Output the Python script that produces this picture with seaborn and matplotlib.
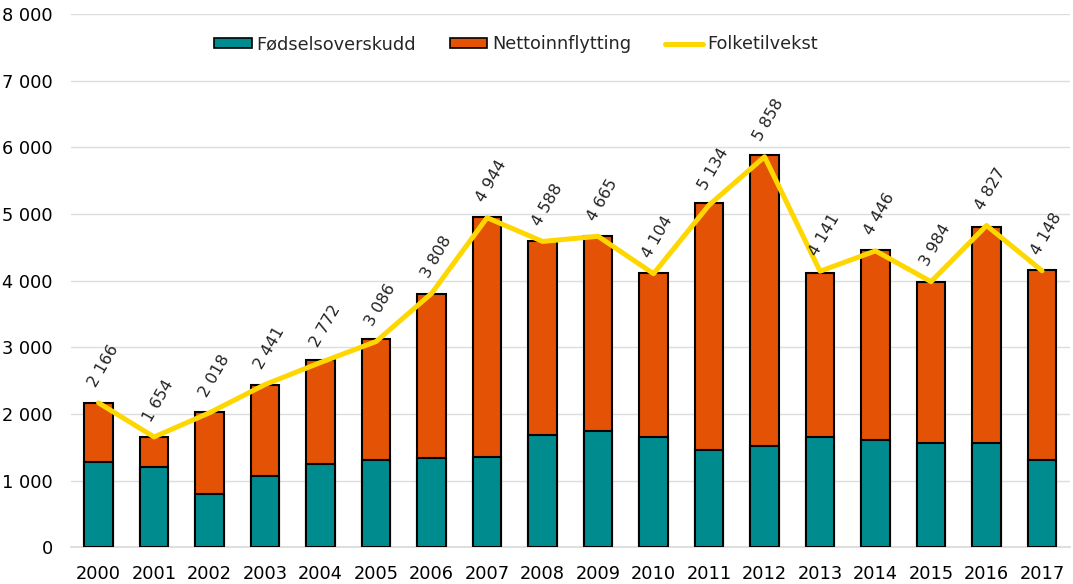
import pandas as pd
import matplotlib.pyplot as plt
import seaborn as sns
from matplotlib.patches import Patch
from matplotlib.lines import Line2D

# Data
years = [str(y) for y in range(2000, 2018)]
fodselsoverskudd = [1280, 1200, 800, 1070, 1250, 1310, 1345, 1360, 1690, 1750,
                    1655, 1465, 1515, 1655, 1610, 1570, 1570, 1305]
nettoinnflytting = [880, 460, 1225, 1360, 1560, 1820, 2455, 3590, 2900, 2915,
                    2455, 3700, 4365, 2455, 2850, 2410, 3230, 2860]
folketilvekst = [2166, 1654, 2018, 2441, 2772, 3086, 3808, 4944, 4588, 4665,
                 4104, 5134, 5858, 4141, 4446, 3984, 4827, 4148]

teal = "#008B8F"
orange = "#E35205"
yellow = "#FFD700"

df = pd.DataFrame({
    "year": years,
    "fodsel": fodselsoverskudd,
    "netto": nettoinnflytting,
    "vekst": folketilvekst,
})
df["total"] = df["fodsel"] + df["netto"]

sns.set_style("white")
plt.rcParams["font.family"] = ["DejaVu Sans"]

fig, ax = plt.subplots(figsize=(10.73, 5.84), dpi=100)
fig.subplots_adjust(left=0.066, right=0.997, top=0.976, bottom=0.063)

# stacked bars: total (orange) first, then the lower part (teal) over it
sns.barplot(data=df, x="year", y="total", color=orange, width=0.52,
            edgecolor="black", linewidth=1.5, saturation=1, ax=ax, zorder=2)
sns.barplot(data=df, x="year", y="fodsel", color=teal, width=0.52,
            edgecolor="black", linewidth=1.5, saturation=1, ax=ax, zorder=3)
sns.lineplot(data=df, x="year", y="vekst", color=yellow, linewidth=3.6,
             ax=ax, zorder=4, sort=False)

# data labels
for i, v in enumerate(folketilvekst):
    ax.annotate(f"{v:,}".replace(",", " "), (i, v), xytext=(-5, 12),
                textcoords="offset points", rotation=60, rotation_mode="anchor",
                ha="left", va="center", fontsize=11.5, color="#222222", zorder=5)

ax.set_ylim(0, 8000)
ax.set_xlim(-0.5, 17.5)
ax.set_yticks(range(0, 8001, 1000))
ax.set_yticklabels([f"{t:,}".replace(",", " ") for t in range(0, 8001, 1000)])
ax.yaxis.grid(True, color="#DDDDDD", linewidth=1.0, zorder=0)
ax.set_axisbelow(True)
for s in ["top", "right", "left"]:
    ax.spines[s].set_visible(False)
ax.spines["bottom"].set_color("#D9D9D9")
ax.spines["bottom"].set_linewidth(1.2)
ax.tick_params(axis="both", length=0, labelsize=12.8, colors="black")
ax.tick_params(axis="x", pad=13)
ax.tick_params(axis="y", pad=13)
ax.set_xlabel("")
ax.set_ylabel("")

handles = [
    Patch(facecolor=teal, edgecolor="black", linewidth=1.2, label="Fødselsoverskudd"),
    Patch(facecolor=orange, edgecolor="black", linewidth=1.2, label="Nettoinnflytting"),
    Line2D([0], [0], color=yellow, linewidth=3.6, label="Folketilvekst"),
]
ax.legend(handles=handles, loc="upper center", bbox_to_anchor=(0.446, 0.99),
          ncol=3, frameon=False, fontsize=12.8, handlelength=2.1,
          handleheight=0.55, handletextpad=0.28, columnspacing=1.9)

fig.savefig("out.png", dpi=100)
